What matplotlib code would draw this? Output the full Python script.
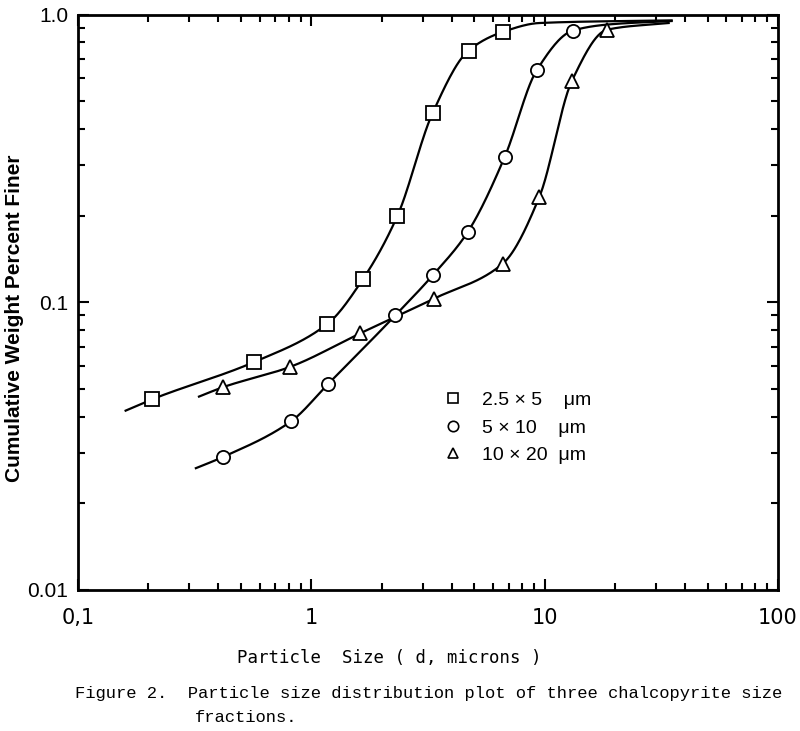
import numpy as np
import matplotlib
matplotlib.use("Agg")
import matplotlib.pyplot as plt
from matplotlib.lines import Line2D
from matplotlib.ticker import LogLocator, NullFormatter, FixedLocator, FixedFormatter

# ---- data ----
sq_x = [0.208, 0.569, 1.17, 1.66, 2.34, 3.31, 4.72, 6.6]
sq_y = [0.046, 0.062, 0.084, 0.12, 0.20, 0.455, 0.75, 0.87]
ci_x = [0.419, 0.82, 1.18, 2.29, 3.31, 4.67, 6.74, 9.24, 13.2]
ci_y = [0.029, 0.0386, 0.052, 0.090, 0.124, 0.175, 0.32, 0.64, 0.88]
tr_x = [0.419, 0.81, 1.62, 3.34, 6.6, 9.5, 13.1, 18.5]
tr_y = [0.0507, 0.0596, 0.078, 0.1028, 0.136, 0.233, 0.59, 0.886]

# smooth-curve tails (where the drawn curves begin and end)
sq_head = (0.16, 0.042)
sq_tail_x = [9.5, 35.0]
sq_tail_y = [0.935, 0.955]
ci_head = (0.32, 0.0265)
ci_tail_x = [19.0, 35.0]
ci_tail_y = [0.925, 0.95]
tr_head = (0.33, 0.047)
tr_tail_x = [34.0]
tr_tail_y = [0.935]

labels = ["2.5 \u00d7 5    \u03bcm", "5 \u00d7 10    \u03bcm", "10 \u00d7 20  \u03bcm"]
xtick_vals = [0.1, 1, 10, 100]
xtick_labels = ["0,1", "1", "10", "100"]
ytick_vals = [0.01, 0.1, 1.0]
ytick_labels = ["0.01", "0.1", "1.0"]


def pchip(x, y, xn):
    x = np.asarray(x, float); y = np.asarray(y, float)
    n = len(x)
    h = np.diff(x); d = np.diff(y) / h
    m = np.zeros(n)
    for k in range(1, n - 1):
        if d[k - 1] * d[k] > 0:
            w1 = 2 * h[k] + h[k - 1]
            w2 = h[k] + 2 * h[k - 1]
            m[k] = (w1 + w2) / (w1 / d[k - 1] + w2 / d[k])
    m[0] = d[0]; m[-1] = d[-1]
    idx = np.clip(np.searchsorted(x, xn) - 1, 0, n - 2)
    t = (xn - x[idx]) / h[idx]
    h00 = 2 * t**3 - 3 * t**2 + 1
    h10 = t**3 - 2 * t**2 + t
    h01 = -2 * t**3 + 3 * t**2
    h11 = t**3 - t**2
    return h00 * y[idx] + h10 * h[idx] * m[idx] + h01 * y[idx + 1] + h11 * h[idx] * m[idx + 1]


def curve(head, xs, ys, tx, ty):
    kx = np.log10([head[0]] + list(xs) + list(tx))
    ky = np.log10([head[1]] + list(ys) + list(ty))
    xn = np.linspace(kx[0], kx[-1], 400)
    yn = pchip(kx, ky, xn)
    return 10 ** xn, 10 ** yn


fig = plt.figure(figsize=(8, 7.31), dpi=100)
ax = fig.add_axes([0.0975, 0.193, 0.875, 0.787])
ax.set_xscale("log"); ax.set_yscale("log")
ax.set_xlim(0.1, 100); ax.set_ylim(0.01, 1.0)

for (hd, xs, ys, tx, ty, mk) in [
        (sq_head, sq_x, sq_y, sq_tail_x, sq_tail_y, "s"),
        (ci_head, ci_x, ci_y, ci_tail_x, ci_tail_y, "o"),
        (tr_head, tr_x, tr_y, tr_tail_x, tr_tail_y, "^")]:
    cx, cy = curve(hd, xs, ys, tx, ty)
    ax.plot(cx, cy, color="black", lw=1.6, zorder=2, clip_on=False)
    ax.plot(xs, ys, linestyle="none", marker=mk, markersize=9.5,
            markerfacecolor="white", markeredgecolor="black",
            markeredgewidth=1.3, zorder=3, clip_on=False)

for s in ax.spines.values():
    s.set_linewidth(2.0)

ax.xaxis.set_major_locator(FixedLocator(xtick_vals))
ax.xaxis.set_major_formatter(FixedFormatter(xtick_labels))
ax.yaxis.set_major_locator(FixedLocator(ytick_vals))
ax.yaxis.set_major_formatter(FixedFormatter(ytick_labels))
ax.xaxis.set_minor_locator(LogLocator(base=10, subs=np.arange(2, 10)))
ax.yaxis.set_minor_locator(LogLocator(base=10, subs=np.arange(2, 10)))
ax.xaxis.set_minor_formatter(NullFormatter())
ax.yaxis.set_minor_formatter(NullFormatter())
ax.tick_params(which="both", direction="in", top=True, right=True, width=1.5)
ax.tick_params(which="major", length=8)
ax.tick_params(which="minor", length=5)
ax.tick_params(axis="x", which="major", pad=13, labelsize=15)
for lab in ax.get_xticklabels():
    lab.set_family("DejaVu Sans")
ax.tick_params(axis="y", which="major", pad=7, labelsize=15)
for lab in ax.get_yticklabels():
    lab.set_family("Liberation Sans")

fig.text(0.486, 0.100, "Particle  Size ( d, microns )", family="DejaVu Sans Mono",
         fontsize=12.5, ha="center", va="center")
fig.text(0.018, 0.565, "Cumulative Weight Percent Finer", rotation=90,
         ha="center", va="center", family="Liberation Sans",
         fontweight="bold", fontsize=15)

handles = [Line2D([], [], linestyle="none", marker=m, markersize=7.5,
                  markerfacecolor="white", markeredgecolor="black",
                  markeredgewidth=1.2) for m in ["s", "o", "^"]]
leg = ax.legend(handles, labels, loc="upper left",
                bbox_to_anchor=(0.497, 0.375), frameon=False,
                prop={"family": "Liberation Sans", "size": 14},
                handletextpad=1.0, labelspacing=0.5, handlelength=1.0)

fig.text(0.094, 0.051, "Figure 2.  Particle size distribution plot of three chalcopyrite size",
         family="Liberation Mono", fontsize=12.3, ha="left", va="center")
fig.text(0.243, 0.018, "fractions.", family="Liberation Mono", fontsize=12.3,
         ha="left", va="center")

fig.savefig("out.png", dpi=100, facecolor="white")
